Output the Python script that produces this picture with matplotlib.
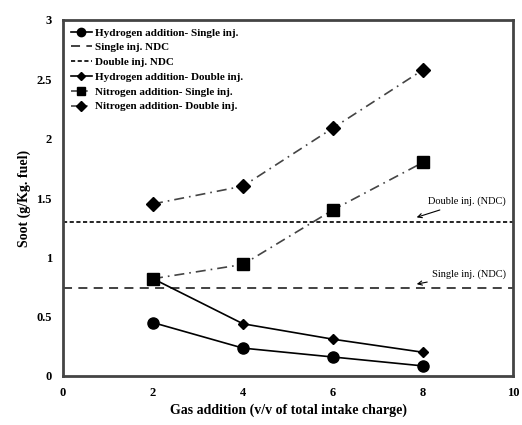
import matplotlib.pyplot as plt
import numpy as np

plt.rcParams['font.family'] = ['Liberation Serif', 'DejaVu Serif']

gas = [2, 4, 6, 8]
h2_single = [0.45, 0.235, 0.16, 0.085]
h2_double = [0.82, 0.44, 0.31, 0.20]
n2_single = [0.82, 0.94, 1.40, 1.80]
n2_double = [1.45, 1.60, 2.09, 2.58]
single_ndc = 0.74
double_ndc = 1.30

fig = plt.figure(figsize=(5.22, 4.25), dpi=100)
ax = fig.add_axes([63/522, 1-376/425, (513-63)/522, (376-20)/425])

ax.plot(gas, h2_single, '-', color='black', lw=1.2, marker='o', ms=8,
        label='Hydrogen addition- Single inj.')
ax.axhline(single_ndc, color='#333333', lw=1.3, ls=(0, (5, 3.5)), label='Single inj. NDC')
ax.axhline(double_ndc, color='black', lw=1.2, ls=(0, (2.5, 1.5)), label='Double inj. NDC')
ax.plot(gas, h2_double, '-', color='black', lw=1.2, marker='D', ms=5,
        label='Hydrogen addition- Double inj.')
ax.plot(gas, n2_single, color='#444444', lw=1.2, ls=(0, (6, 3, 1, 3)), marker='s', ms=8,
        mfc='black', mec='black', label='Nitrogen addition- Single inj.')
ax.plot(gas, n2_double, color='#444444', lw=1.2, ls=(0, (6, 3, 1, 3)), marker='D', ms=7,
        mfc='black', mec='black', label='Nitrogen addition- Double inj.')

ax.annotate('Double inj. (NDC)', xy=(7.8, 1.33), xytext=(8.1, 1.47),
            fontsize=7.5, va='center',
            arrowprops=dict(arrowstyle='->', color='black', lw=0.8))
ax.annotate('Single inj. (NDC)', xy=(7.8, 0.77), xytext=(8.2, 0.86),
            fontsize=7.5, va='center',
            arrowprops=dict(arrowstyle='->', color='black', lw=0.8))

ax.set_xlim(0, 10)
ax.set_ylim(0, 3)
ax.set_xticks([0, 2, 4, 6, 8, 10])
ax.set_yticks([0, 0.5, 1, 1.5, 2, 2.5, 3])
ax.set_yticklabels(['0', '0.5', '1', '1.5', '2', '2.5', '3'])
ax.tick_params(length=0, labelsize=9, pad=8)
for lbl in ax.get_xticklabels() + ax.get_yticklabels():
    lbl.set_fontweight('bold')
for s in ax.spines.values():
    s.set_linewidth(2)
    s.set_color('#444444')

ax.set_xlabel('Gas addition (v/v of total intake charge)', fontsize=10, fontweight='bold', labelpad=3)
ax.set_ylabel('Soot (g/Kg. fuel)', fontsize=10, fontweight='bold', labelpad=4)

leg = ax.legend(loc='upper left', frameon=False, handlelength=1.9, markerscale=0.75,
                handletextpad=0.3, labelspacing=0.45, borderaxespad=0.3,
                prop={'weight': 'bold', 'size': 8})

fig.savefig('out.png', dpi=100)
